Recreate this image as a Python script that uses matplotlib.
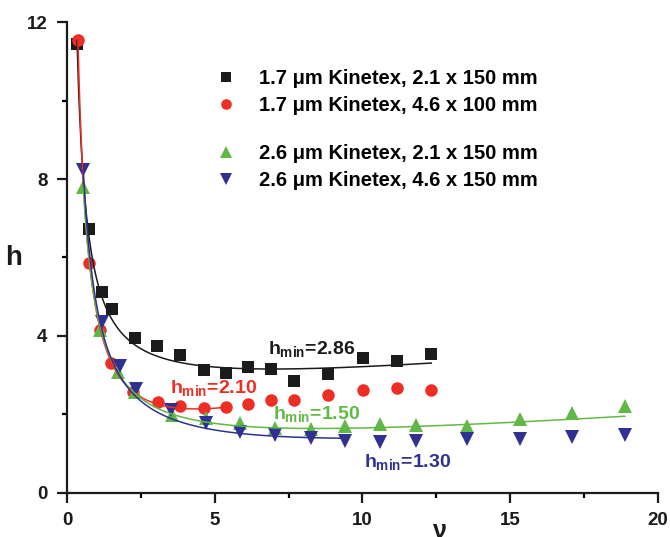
import matplotlib
matplotlib.use("Agg")
import matplotlib.pyplot as plt
from matplotlib.lines import Line2D
from matplotlib.ticker import MultipleLocator
import numpy as np

plt.rcParams['font.family'] = ['Liberation Sans', 'DejaVu Sans']
plt.rcParams['font.weight'] = 'bold'
plt.rcParams['mathtext.fontset'] = 'custom'
plt.rcParams['mathtext.rm'] = 'Liberation Sans:bold'
plt.rcParams['mathtext.it'] = 'Liberation Sans:bold'
plt.rcParams['mathtext.bf'] = 'Liberation Sans:bold'

# ---- data (reduced velocity nu, reduced plate height h) ----
nu_17_21 = [0.34, 0.75, 1.18, 1.52, 2.31, 3.06, 3.83, 4.62, 5.39, 6.14, 6.91, 7.69, 8.84, 10.02, 11.17, 12.33]
h_17_21 = [11.45, 6.72, 5.12, 4.69, 3.94, 3.75, 3.50, 3.13, 3.06, 3.21, 3.15, 2.86, 3.03, 3.43, 3.36, 3.53]

nu_17_46 = [0.37, 0.75, 1.12, 1.50, 2.25, 3.08, 3.83, 4.62, 5.39, 6.14, 6.91, 7.69, 8.85, 10.02, 11.17, 12.33]
h_17_46 = [11.55, 5.85, 4.15, 3.32, 2.56, 2.32, 2.20, 2.17, 2.18, 2.27, 2.36, 2.36, 2.49, 2.63, 2.66, 2.63]

nu_26_21 = [0.55, 1.12, 1.74, 2.31, 3.54, 4.71, 5.86, 7.05, 8.26, 9.42, 10.61, 11.80, 13.55, 15.33, 17.08, 18.88]
h_26_21 = [7.80, 4.15, 3.09, 2.58, 1.98, 1.90, 1.77, 1.64, 1.62, 1.70, 1.75, 1.73, 1.70, 1.87, 2.03, 2.21]

nu_26_46 = [0.55, 1.18, 1.80, 2.34, 3.52, 4.71, 5.86, 7.05, 8.26, 9.42, 10.61, 11.80, 13.55, 15.33, 17.08, 18.88]
h_26_46 = [8.22, 4.36, 3.24, 2.65, 2.11, 1.77, 1.56, 1.47, 1.39, 1.33, 1.30, 1.33, 1.36, 1.36, 1.43, 1.47]

# fitted curve coefficients h = A + B/nu + C*nu, and fitted nu ranges
fit_17_21 = [2.25, 3.15, 0.065]
fit_17_46 = [0.228, 4.16, 0.219]
fit_26_21 = [0.722, 3.874, 0.0542]
fit_26_46 = [0.55, 4.206, 0.0417]
range_17_21 = [0.34, 12.33]
range_17_46 = [0.37, 5.39]
range_26_21 = [0.55, 18.88]
range_26_46 = [0.55, 9.42]

labels = ["1.7 \u03bcm Kinetex, 2.1 x 150 mm",
          "1.7 \u03bcm Kinetex, 4.6 x 100 mm",
          "2.6 \u03bcm Kinetex, 2.1 x 150 mm",
          "2.6 \u03bcm Kinetex, 4.6 x 150 mm"]
hmin_text = ["2.86", "2.10", "1.50", "1.30"]

BLACK = '#1b1b1b'
RED = '#ee2e24'
GREEN = '#62b846'
BLUE = '#2e3192'

fig = plt.figure(figsize=(6.70, 5.37), dpi=100)
ax = fig.add_axes([0.1, 0.0825, 0.882, 0.876])

series = [
    (nu_17_21, h_17_21, fit_17_21, range_17_21, BLACK, 's', 8),
    (nu_17_46, h_17_46, fit_17_46, range_17_46, RED, 'o', 9),
    (nu_26_21, h_26_21, fit_26_21, range_26_21, GREEN, '^', 9.5),
    (nu_26_46, h_26_46, fit_26_46, range_26_46, BLUE, 'v', 9.5),
]
for x, y, fit, rng, col, mk, ms in series:
    ax.plot(x, y, linestyle='none', marker=mk, color=col, markersize=ms,
            markeredgewidth=0, zorder=3)
    xx = np.linspace(rng[0], rng[1], 400)
    A, B, C = fit
    ax.plot(xx, A + B / xx + C * xx, color=col, lw=1.1, zorder=4)

lg_handles = [Line2D([], [], linestyle='none', marker=s[5], color=s[4],
                     markersize=s[6] * 0.85, markeredgewidth=0) for s in series]

leg_kw = dict(frameon=False, handlelength=1.0, handletextpad=1.15,
              labelspacing=0.4, borderpad=0, borderaxespad=0,
              loc='upper left', bbox_transform=fig.transFigure,
              prop={'weight': 'bold', 'size': 14.5})
leg1 = ax.legend(lg_handles[:2], labels[:2], bbox_to_anchor=(0.3224, 0.872), **leg_kw)
ax.add_artist(leg1)
leg2 = ax.legend(lg_handles[2:], labels[2:], bbox_to_anchor=(0.3224, 0.7324), **leg_kw)

# h_min annotations
ann_pos = [(6.81, 3.54), (3.49, 2.54), (6.97, 1.87), (10.04, 0.66)]
ann_col = [BLACK, RED, GREEN, BLUE]
for (px, py), t, c in zip(ann_pos, hmin_text, ann_col):
    ax.text(px, py, r'$h_{min}$=' + t, color=c, fontsize=14, fontweight='bold',
            ha='left', va='baseline', zorder=5)

ax.set_xlim(0, 20)
ax.set_ylim(0, 12)
ax.xaxis.set_major_locator(MultipleLocator(5))
ax.xaxis.set_minor_locator(MultipleLocator(2.5))
ax.yaxis.set_major_locator(MultipleLocator(4))
ax.yaxis.set_minor_locator(MultipleLocator(2))
for s in ['top', 'right']:
    ax.spines[s].set_visible(False)
for s in ['left', 'bottom']:
    ax.spines[s].set_linewidth(1.6)
    ax.spines[s].set_color(BLACK)
ax.tick_params(which='major', length=7, width=1.6, direction='out', labelsize=13.5,
               colors=BLACK, pad=7)
ax.tick_params(which='minor', length=3.5, width=1.6, direction='out')
for lab in ax.get_xticklabels() + ax.get_yticklabels():
    lab.set_fontweight('bold')

fig.text(14 / 670, 1 - 258 / 537, 'h', fontsize=20, fontweight='bold', color=BLACK,
         ha='center', va='center')
fig.text(440 / 670, -0.002, '\u03bd', fontsize=18, fontweight='bold', color=BLACK,
         ha='center', va='baseline')

fig.savefig('out.png', dpi=100)
